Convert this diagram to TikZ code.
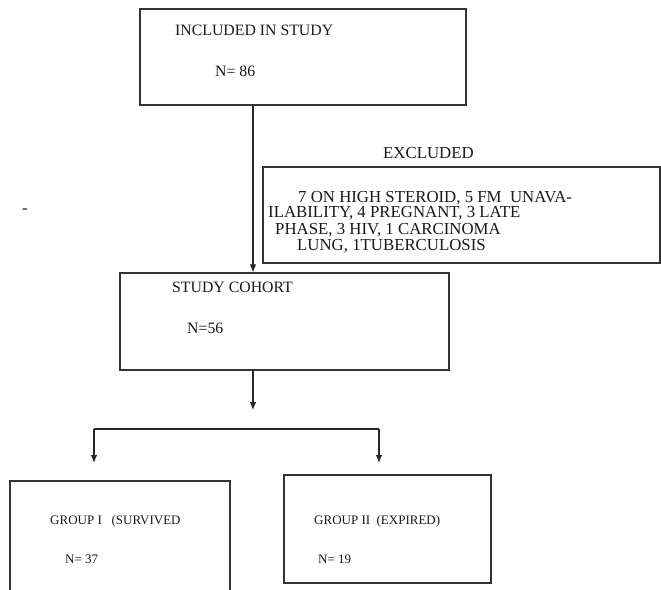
\documentclass[tikz,border=0pt]{standalone}
\usepackage{fontspec}
\setmainfont{Liberation Serif}
\usetikzlibrary{arrows.meta}
\tikzset{
  box/.style={draw=black!80, line width=1.2pt, rectangle, inner sep=0pt},
  lbl/.style={anchor=base west, inner sep=0pt, text=black!90, font=\fontsize{15.8}{16}\selectfont},
  lblsm/.style={anchor=base west, inner sep=0pt, text=black!90, font=\fontsize{13}{14}\selectfont},
  lblex/.style={anchor=base west, inner sep=0pt, text=black!90, font=\fontsize{16.8}{16}\selectfont},
  conn/.style={draw=black!85, line width=1.1pt},
  arr/.style={conn, -{Latex[length=8pt,width=6.5pt]}}
}
\begin{document}
\begin{tikzpicture}[x=1pt,y=-1pt]
\useasboundingbox (0,0) rectangle (661,589);
\clip (0,0) rectangle (661,589);
% boxes
\node[box, minimum width=326pt, minimum height=96pt] (inc) at (303,57) {};
\node[box, minimum width=397pt, minimum height=96pt] (exc) at (461.5,215) {};
\node[box, minimum width=329pt, minimum height=97pt] (coh) at (284.5,321.5) {};
\node[box, minimum width=220pt, minimum height=130pt] (g1) at (120,546) {};
\node[box, minimum width=207pt, minimum height=108pt] (g2) at (387.5,529) {};
% texts
\node[lbl] (tinc) at (175,35) {INCLUDED IN STUDY};
\node[lbl] (ninc) at (215,76) {N= 86};
\node[lblex] (texc) at (383,158) {EXCLUDED};
\node[lblex] (e1) at (298,202) {7 ON HIGH STEROID, 5 FM\ \ UNAVA-};
\node[lblex] (e2) at (268,217) {ILABILITY, 4 PREGNANT, 3 LATE};
\node[lblex] (e3) at (275,234) {PHASE, 3 HIV, 1 CARCINOMA};
\node[lblex] (e4) at (297,250) {LUNG, 1TUBERCULOSIS};
\node[lbl] (tcoh) at (172,292) {STUDY COHORT};
\node[lbl] (ncoh) at (187,333) {N=56};
\node[lblsm] (tg1) at (50,524) {GROUP I\ \ \ (SURVIVED};
\node[lblsm] (ng1) at (65,563) {N= 37};
\node[lblsm] (tg2) at (314,524) {GROUP II\ \ (EXPIRED)};
\node[lblsm] (ng2) at (318,563) {N= 19};
\node[lblex] (dash) at (22,213) {-};
% connectors
\coordinate (a1) at (253,0);
\draw[arr] (inc.south -| a1) -- (coh.north -| a1);
\coordinate (split) at (253,410);
\draw[arr] (coh.south -| a1) -- (split);
\coordinate (hl) at (94,429);
\coordinate (hr) at (379,429);
\draw[conn] (hl) -- (hr);
\draw[arr] (hl) -- (hl |- 0,463);
\draw[arr] (hr) -- (hr |- 0,463);
\end{tikzpicture}
\end{document}
